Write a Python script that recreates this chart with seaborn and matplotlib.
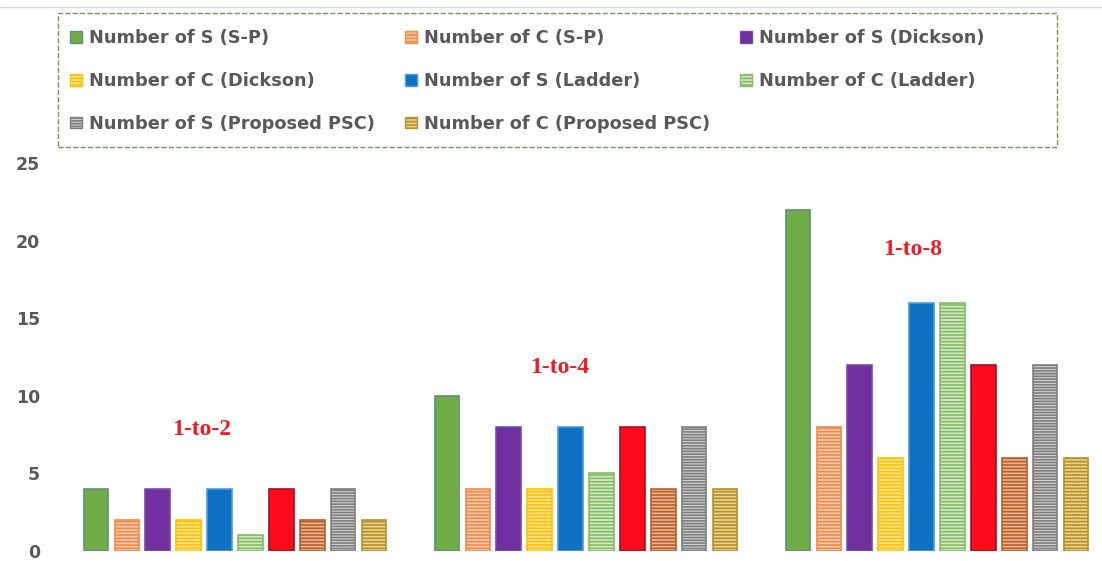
import pandas as pd
import seaborn as sns
import matplotlib.pyplot as plt
from matplotlib.patches import Patch, Rectangle
from matplotlib.lines import Line2D

# data
ratios = ["1-to-2", "1-to-4", "1-to-8"]
series = [
    "Number of S (S-P)",
    "Number of C (S-P)",
    "Number of S (Dickson)",
    "Number of C (Dickson)",
    "Number of S (Ladder)",
    "Number of C (Ladder)",
    "Number of S (Red)",
    "Number of C (Brown)",
    "Number of S (Proposed PSC)",
    "Number of C (Proposed PSC)",
]
vals_1to2 = [4, 2, 4, 2, 4, 1, 4, 2, 4, 2]
vals_1to4 = [10, 4, 8, 4, 8, 5, 8, 4, 8, 4]
vals_1to8 = [22, 8, 12, 6, 16, 16, 12, 6, 12, 6]
ratio_label_y = [7.8, 11.85, 19.4]

# only 8 of the 10 series show up in the legend
legend_series = [0, 1, 2, 3, 4, 5, 8, 9]

face_colors = ["#70AD47", "#F8CBAD", "#7030A0", "#FFE699", "#0F71C1",
               "#D5E8C8", "#FF0A1A", "#EBB48F", "#D0D0D0", "#EAD48E"]
edge_colors = ["#5B8F7A", "#F08A4B", "#7A4AA6", "#FFC000", "#4A9BDA",
               "#84BC62", "#A0102A", "#B5602C", "#7F7F7F", "#B8902A"]
hatches = ["", "-----", "", "-----", "", "-----", "", "-----", "------", "-----"]

rows = []
for r, vals in zip(ratios, [vals_1to2, vals_1to4, vals_1to8]):
    for s, v in zip(series, vals):
        rows.append({"ratio": r, "series": s, "count": v})
df = pd.DataFrame(rows)

sns.set_style("white")
plt.rcParams["hatch.linewidth"] = 1.2

W, H = 1102, 561
fig = plt.figure(figsize=(W / 100, H / 100), dpi=100)
ax = fig.add_axes([59.5 / W, 10 / H, (W - 59.5) / W, 388 / H])

sns.barplot(data=df, x="ratio", y="count", hue="series", hue_order=series,
            palette=face_colors, saturation=1, width=0.88, gap=0.2,
            legend=False, ax=ax)

for i, cont in enumerate(ax.containers):
    for bar in cont:
        bar.set_edgecolor(edge_colors[i])
        bar.set_linewidth(1.2)
        bar.set_hatch(hatches[i])

ax.set_xlim(-0.5, 2.47)
ax.set_ylim(0, 25)
ax.set_yticks([0, 5, 10, 15, 20, 25])
ax.tick_params(axis="y", labelsize=12.5, labelcolor="#595959", length=0, pad=14)
for lab in ax.get_yticklabels():
    lab.set_fontweight("bold")
ax.set_xticks([])
ax.set_xlabel("")
ax.set_ylabel("")
sns.despine(ax=ax, left=True, bottom=True)

xs = [-0.095, 0.925, 1.93]
for x, y, t in zip(xs, ratio_label_y, ratios):
    ax.text(x, y, t, color="#EE1C25", fontsize=17, fontweight="bold",
            family=["Liberation Serif", "DejaVu Serif"], ha="center", va="center")

handles = [Patch(facecolor=face_colors[i], edgecolor=edge_colors[i],
                 hatch=hatches[i], label=series[i]) for i in legend_series]
# matplotlib fills columns first, reorder so rows read like the reference
order = [0, 3, 6, 1, 4, 7, 2, 5]
handles = [handles[k] for k in order]
leg = fig.legend(handles=handles, ncol=3, loc="upper left",
                 bbox_to_anchor=(70 / W, 1 - 29 / H), frameon=False,
                 fontsize=12.8, handlelength=0.65, handleheight=0.65,
                 handletextpad=0.4, columnspacing=1.72, labelspacing=1.4,
                 borderpad=0, borderaxespad=0)
for t in leg.get_texts():
    t.set_color("#595959")
    t.set_fontweight("bold")

# dashed box round the legend
fig.add_artist(Rectangle((58 / W, 1 - 147 / H), (1057 - 58) / W, 134 / H,
                         fill=False, edgecolor="#6A9A4A", linestyle="--",
                         linewidth=1.0, transform=fig.transFigure))

fig.add_artist(Line2D([0, 1], [1 - 7 / H, 1 - 7 / H], color="#D9D9D9", lw=1))

fig.savefig("out.png", dpi=100)
